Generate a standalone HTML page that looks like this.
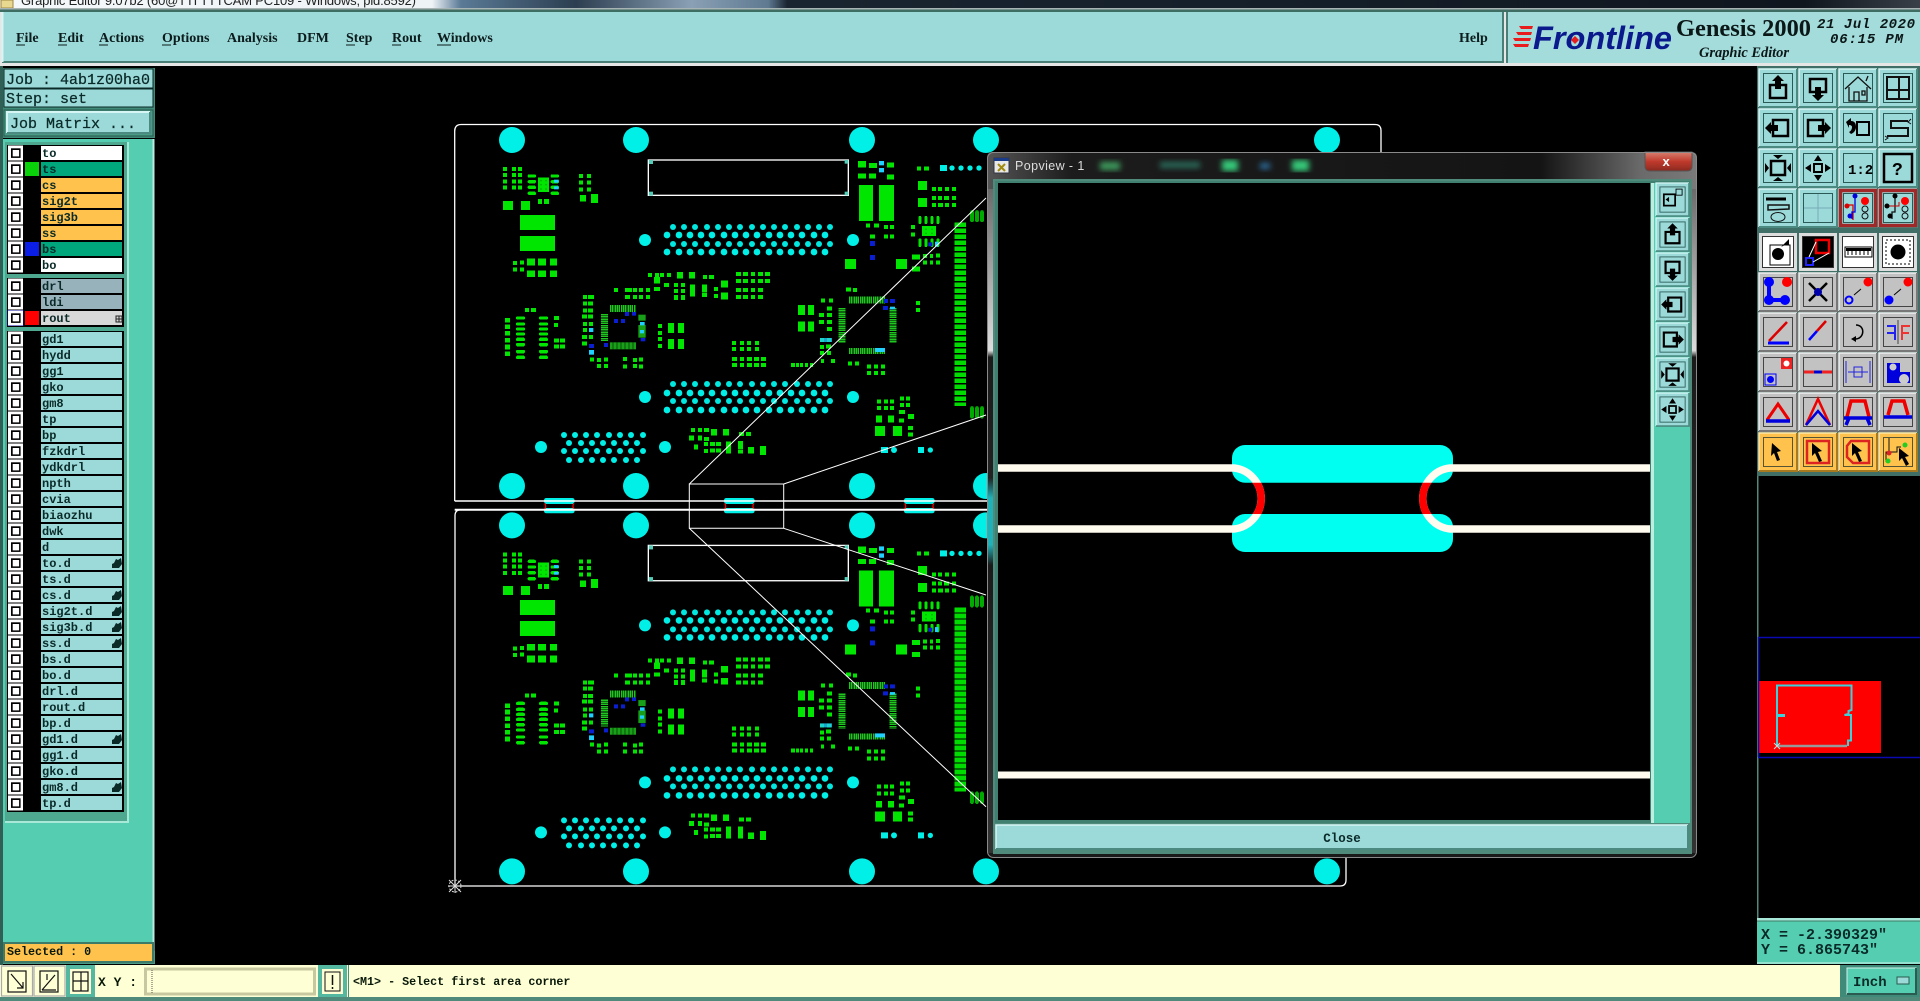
<!DOCTYPE html>
<html><head><meta charset="utf-8"><title>Genesis 2000 Graphic Editor</title>
<style>
html,body{margin:0;padding:0;background:#000;width:1920px;height:1001px;overflow:hidden}
svg{display:block}
.m{font:bold 14px "Liberation Serif",serif;fill:#0c1c1c}
.l{font:bold 12px "Liberation Mono",monospace;fill:#0a2a28}
.j{font:bold 15px "Liberation Mono",monospace;fill:#0a2a28}
.s{font:bold 11.7px "Liberation Mono",monospace;fill:#081808}
</style></head><body>
<svg xmlns="http://www.w3.org/2000/svg" width="1920" height="1001" viewBox="0 0 1920 1001">
<defs>
<linearGradient id="tb" x1="0" x2="1" y1="0" y2="0"><stop offset="0" stop-color="#f4f8fa"/><stop offset=".225" stop-color="#eef3f6"/><stop offset=".24" stop-color="#5a7a96"/><stop offset=".3" stop-color="#2c3e50"/><stop offset=".36" stop-color="#8aa0b4"/><stop offset=".4" stop-color="#5f7a92"/><stop offset=".41" stop-color="#1a2430"/><stop offset=".6" stop-color="#16212c"/><stop offset=".94" stop-color="#10161e"/><stop offset="1" stop-color="#3a4048"/></linearGradient>
<linearGradient id="pt" x1="0" x2="1" y1="0" y2="0"><stop offset="0" stop-color="#555"/><stop offset=".12" stop-color="#1c1c1c"/><stop offset=".78" stop-color="#141414"/><stop offset=".92" stop-color="#6a6a6a"/><stop offset="1" stop-color="#7a7a7a"/></linearGradient>
<linearGradient id="pf" x1="0" x2="0" y1="0" y2="1"><stop offset="0" stop-color="#666"/><stop offset=".25" stop-color="#ddd"/><stop offset=".26" stop-color="#1a1a1a"/><stop offset=".44" stop-color="#222"/><stop offset=".47" stop-color="#20b0b8"/><stop offset=".54" stop-color="#20b0b8"/><stop offset=".57" stop-color="#1a1a1a"/><stop offset="1" stop-color="#333"/></linearGradient>
<linearGradient id="pg" x1="0" x2="0" y1="0" y2="1"><stop offset="0" stop-color="#666"/><stop offset=".25" stop-color="#ddd"/><stop offset=".26" stop-color="#1a1a1a"/><stop offset="1" stop-color="#333"/></linearGradient>
<linearGradient id="rx" x1="0" x2="0" y1="0" y2="1"><stop offset="0" stop-color="#d88070"/><stop offset=".5" stop-color="#c03a2c"/><stop offset="1" stop-color="#8a2a20"/></linearGradient>
<filter id="bl"><feGaussianBlur stdDeviation="3"/></filter>
<clipPath id="gap"><rect x="1200" y="482.7" width="280" height="31.3"/></clipPath>
<clipPath id="cnv"><rect x="998" y="183" width="652" height="637"/></clipPath>

<g id="bt"><rect width="38" height="38" fill="#9cd9d9"/><path d="M0 38V0h38" fill="none" stroke="#d6f6f6" stroke-width="1.5"/><path d="M38 0V38H0" fill="none" stroke="#4a8a80" stroke-width="2"/><rect x="4.5" y="4.5" width="29" height="29" fill="none" stroke="#2a5a55"/></g>
<g id="bg"><rect width="38" height="38" fill="#c2c2c2"/><path d="M0 38V0h38" fill="none" stroke="#efefef" stroke-width="1.5"/><path d="M38 0V38H0" fill="none" stroke="#777" stroke-width="2"/><rect x="4.5" y="4.5" width="29" height="29" fill="none" stroke="#444"/></g>
<g id="bo"><rect width="38" height="38" fill="#ffc34d"/><path d="M0 38V0h38" fill="none" stroke="#ffe6a8" stroke-width="1.5"/><path d="M38 0V38H0" fill="none" stroke="#a87a20" stroke-width="2"/><rect x="4.5" y="4.5" width="29" height="29" fill="none" stroke="#553"/></g>
<g id="bw"><rect width="38" height="38" fill="#ddd"/><rect x="3.5" y="3.5" width="31" height="31" fill="#fff" stroke="#333"/></g>
<g id="br"><use href="#bt"/><rect x="1.5" y="1.5" width="35" height="35" fill="none" stroke="#a02828" stroke-width="3.5"/></g>

<g id="iu"><path d="M11 16h16v13H11z" fill="none" stroke="#000" stroke-width="2.5"/><path d="M19 6l6 6h-3v8h-6v-8h-3z"/></g>
<g id="id"><path d="M11 10h16v13H11z" fill="none" stroke="#000" stroke-width="2.5"/><path d="M19 32l6-6h-3v-8h-6v8h-3z"/></g>
<g id="il"><path d="M14 11h15v16H14z" fill="none" stroke="#000" stroke-width="2.5"/><path d="M6 19l6-6v3h7v6h-7v3z"/></g>
<g id="ir"><path d="M9 11h15v16H9z" fill="none" stroke="#000" stroke-width="2.5"/><path d="M32 19l-6-6v3h-7v6h7v3z"/></g>
<g id="is"><path d="M12 12h14v14H12z" fill="none" stroke="#000" stroke-width="2.5"/><path d="M19 10l-5-4h10zM19 28l-5 4h10zM10 19l-4-5v10zM28 19l4-5v10z"/></g>
<g id="im"><path d="M15 15h8v8h-8z" fill="none" stroke="#000" stroke-width="2"/><path d="M19 6l-4 6h8zM19 32l-4-6h8zM6 19l6-4v8zM32 19l-6-4v8z"/></g>

<g id="box"><rect x="0" y="-7.5" width="15" height="15" fill="#fff"/><rect x="3" y="-4.7" width="9.6" height="9.6" fill="#000"/><rect x="4.7" y="-3" width="6.4" height="6.4" fill="#fff"/></g>
<path id="pen" d="M-2 5v-4l2-1 2-4 2 1 3-2 1 6-3 4z" fill="#0a2a28"/>

<g id="dr1"><g fill="#00e8e0"><circle cx="579" cy="0" r="9"/><circle cx="612" cy="0" r="9"/><circle cx="645" cy="0" r="9"/><circle cx="681" cy="0" r="9"/><circle cx="714" cy="0" r="9"/><circle cx="747" cy="0" r="9"/><circle cx="780" cy="0" r="9"/><circle cx="816" cy="0" r="9"/><circle cx="849" cy="0" r="9"/><circle cx="882" cy="0" r="9"/><circle cx="915" cy="0" r="9"/><circle cx="951" cy="0" r="9"/><circle cx="984" cy="0" r="9"/><circle cx="1017" cy="0" r="9"/><circle cx="1050" cy="0" r="9"/></g></g>
<g id="dr2"><g fill="#00f0e8"><circle cx="561" cy="0" r="10"/><circle cx="597" cy="0" r="10"/><circle cx="630" cy="0" r="10"/><circle cx="663" cy="0" r="10"/><circle cx="696" cy="0" r="10"/><circle cx="732" cy="0" r="10"/><circle cx="765" cy="0" r="10"/><circle cx="798" cy="0" r="10"/><circle cx="831" cy="0" r="10"/><circle cx="867" cy="0" r="10"/><circle cx="900" cy="0" r="10"/><circle cx="933" cy="0" r="10"/><circle cx="966" cy="0" r="10"/><circle cx="1002" cy="0" r="10"/><circle cx="1035" cy="0" r="10"/></g></g>
<g id="vg1" fill="#00f0e8"><circle cx="252" cy="0" r="9"/><circle cx="285" cy="0" r="9"/><circle cx="318" cy="0" r="9"/><circle cx="351" cy="0" r="9"/><circle cx="387" cy="0" r="9"/><circle cx="420" cy="0" r="9"/><circle cx="453" cy="0" r="9"/><circle cx="489" cy="0" r="9"/></g>
<g id="vg2" fill="#00f0e8"><circle cx="267" cy="0" r="9"/><circle cx="303" cy="0" r="9"/><circle cx="336" cy="0" r="9"/><circle cx="369" cy="0" r="9"/><circle cx="402" cy="0" r="9"/><circle cx="438" cy="0" r="9"/><circle cx="471" cy="0" r="9"/></g>
<g id="tab"><path d="M-38 -22h76q8 0 8 8v4l-5 6h-82l-5-6v-4q0-8 8-8zM-38 24h76q8 0 8-8v-2l-5-6h-82l-5 6v2q0 8 8 8z" fill="#00f0e8"/><path d="M-44 -6a16 16 0 0 1 0 18M44 -6a16 16 0 0 0 0 18" fill="none" stroke="#e00" stroke-width="4"/></g>

<g id="board">
<g fill="#00f0e8"><circle cx="96" cy="90" r="39"/><circle cx="468" cy="90" r="39"/><circle cx="1146" cy="90" r="39"/><circle cx="1518" cy="90" r="39"/><circle cx="2541" cy="90" r="39"/><circle cx="96" cy="1128" r="39"/><circle cx="468" cy="1128" r="39"/><circle cx="1146" cy="1128" r="39"/><circle cx="1518" cy="1128" r="39"/><circle cx="2541" cy="1128" r="39"/><circle cx="495" cy="390" r="18"/><circle cx="1119" cy="390" r="18"/><circle cx="495" cy="861" r="18"/><circle cx="1119" cy="861" r="18"/><circle cx="183" cy="1011" r="18"/><circle cx="555" cy="1011" r="18"/><circle cx="1242" cy="1020" r="9"/><circle cx="1351" cy="1020" r="8"/><rect x="1203" y="1011" width="21" height="18"/><rect x="1314" y="1011" width="18" height="18"/><rect x="1380" y="165" width="21" height="18"/><circle cx="1416" cy="174" r="8"/><circle cx="1443" cy="174" r="8"/><circle cx="1470" cy="174" r="8"/><circle cx="1497" cy="174" r="8"/></g>
<use href="#dr1" y="351"/><use href="#dr2" y="375"/><use href="#dr1" y="402"/><use href="#dr2" y="426"/>
<use href="#dr1" y="822"/><use href="#dr2" y="849"/><use href="#dr1" y="873"/><use href="#dr2" y="900"/>
<use href="#vg1" y="975"/><use href="#vg2" y="999"/><use href="#vg1" y="1023"/><use href="#vg2" y="1050"/>
<rect x="505" y="150" width="600" height="106" fill="none" stroke="#fff" stroke-width="4"/>
<g fill="#52cdb8"><rect x="507" y="150" width="12" height="12"/><rect x="1094" y="150" width="11" height="11"/><rect x="507" y="245" width="12" height="12"/><rect x="1094" y="245" width="11" height="11"/></g>

<g fill="none" stroke="#00e600" shape-rendering="crispEdges">
<path stroke-width="12" d="M69 177h12M96 177h12M114 177h12M69 195h12M96 195h12M114 195h12M69 214h12M96 214h12M114 214h12M69 233h12M96 233h12M114 233h12M297 198h12M321 198h12M297 218h12M321 218h12M297 238h12M321 238h12M99 459h12M120 458h12M99 479h12M120 478h12M504 495h12M525 495h12M540 495h12M561 495h12M669 501h12M687 501h15M522 537h18M552 525h15M582 525h12M603 525h12M582 543h12M603 543h12M630 529h15M630 541h15M630 553h15M666 529h15M666 541h15M666 555h15M702 537h12M702 558h12M768 492h15M789 492h15M813 492h12M834 492h15M855 492h15M768 513h15M789 513h15M813 513h12M834 513h15M855 513h15M768 540h15M789 540h15M813 540h12M834 540h15M768 561h15M789 561h15M813 561h12M834 561h15M402 540h12M435 540h21M459 540h12M477 540h12M498 540h12M435 561h15M459 561h12M477 561h12M498 561h12M309 561h12M324 561h18M309 580h12M324 580h15M309 602h12M324 602h15M306 619h15M324 619h15M309 642h12M327 642h12M309 660h12M306 681h15M327 681h12M306 700h15M330 748h12M351 750h12M372 748h12M351 768h12M372 768h12M429 747h12M429 769h12M459 750h12M477 748h12M459 768h12M477 769h12M135 600h12M153 600h15M222 624h15M222 645h12M222 691h15M240 691h15M222 710h15M240 710h15M534 648h12M534 669h12M534 687h12M534 708h12M756 699h12M780 699h12M801 699h12M825 699h12M756 717h12M780 717h12M801 717h12M825 717h12M756 747h15M780 747h12M801 747h15M822 747h15M843 747h15M756 765h15M780 765h12M801 765h15M822 765h15M843 765h15M1023 571h12M1047 571h12M1041 595h15M1017 615h15M1041 615h15M1017 636h15M1041 636h15M1041 657h15M1020 690h12M1041 690h12M1020 711h12M1038 709h15M1020 729h12M1041 729h12M1023 753h9M1053 753h12M933 765h12M948 765h9M960 765h9M975 765h9M990 765h9M1098 538h15M1119 540h12M1104 760h12M1125 760h12M1161 769h12M1182 769h12M1203 769h12M1161 789h12M1182 789h12M1203 789h12M1158 346h12M1182 346h15M1212 351h12M1230 351h12M1170 379h15M1212 379h12M1230 379h12M1311 175h12M1332 175h15M1356 237h12M1374 237h12M1395 237h12M1416 237h12M1356 264h12M1374 264h12M1392 264h15M1416 264h12M1356 285h12M1374 285h15M1395 285h12M1416 285h12M1293 351h12M1293 373h12M1329 438h12M1350 438h9M1368 437h12M1329 457h12M1350 457h9M1368 457h12M1308 579h12M1308 600h12M1191 874h12M1212 874h12M1230 874h12M1191 894h12M1212 894h12M1230 894h12M1260 865h12M1278 865h12M1260 885h12M1278 885h12M1257 906h18M1257 931h15M1284 954h15M1284 973h15M633 960h12M654 960h12M672 960h15M672 987h15M777 972h15M798 972h15M672 1002h12M690 1002h15M708 1002h15M672 1023h12M690 1022h15M708 1022h15M738 1000h15M738 1012h15M738 1024h15M774 999h15M774 1011h15M774 1024h15"/>
<path stroke-width="15" d="M174 274h12M192 274h15M582 562h12M603 562h12M1167 166h24M1221 165h21M1134 198h24M1167 198h21M1221 201h21M1296 441h24M1296 477h24M627 984h15M654 984h12M642 1011h12M1284 919h18"/>
<path stroke-width="20" d="M141 456h24M174 456h24M210 456h21M141 491h24M174 491h24M210 491h21M300 265h18M591 496h18M627 496h18M1134 163h24M723 522h21M723 558h21M522 511h18M693 967h18M729 967h18M1188 927h18M1224 927h18M804 1021h18"/>
<path stroke-width="27" d="M69 286h30M123 286h27M333 265h21M1314 226h27M1314 277h27M840 1021h18"/>
<path stroke-width="30" d="M564 654h18M594 654h18M564 702h18M594 702h18M954 600h21M984 600h18M954 650h21M984 650h18M1095 462h33M1248 462h33M1185 963h30M1239 963h27"/>
<path stroke-width="45" d="M120 337h105M120 400h105"/>
<path stroke-width="108" d="M1137 279h42M1197 279h45"/>
<path stroke-width="44" d="M174 224h33"/>
<path stroke-width="30" d="M1326 363h42"/>
<path stroke-width="10" stroke-linecap="round" d="M148 198h15M148 215h15M148 232h15M148 250h15M217 198h15M217 215h15M217 232h15M217 250h15M113 624h17M113 642h17M113 657h17M113 672h17M113 688h17M113 704h17M113 725h17M113 742h17M182 624h17M182 642h17M182 657h17M182 672h17M182 688h17M182 704h17M182 725h17M182 742h17"/>
<path stroke-width="14" d="M75 631h15M75 650h15M75 670h15M75 691h15M75 711h15M75 731h15"/>
<path stroke-width="8" stroke-linecap="round" d="M1320 322v16M1338 322v16M1356 322v16M1374 322v16M1320 389v18M1338 389v18M1356 389v18M1374 389v18"/>
<path stroke="#0a0" stroke-width="11" stroke-linecap="round" d="M1476 306v25M1491 306v25M1506 306v25M1476 894v26M1491 894v26M1506 894v26"/>
<path stroke="#00dc00" stroke-width="35" stroke-dasharray="14 4" d="M1441 337V888"/>
<path stroke="#1ec81e" stroke-width="21" stroke-dasharray="4.5 2" d="M390 596h78M1107 570h108"/>
<path stroke="#1ec81e" stroke-width="18" stroke-dasharray="4.5 2" d="M1107 723h108"/>
<path stroke="#1ec81e" stroke-width="21" stroke-dasharray="4.5 2" d="M373 612v81M1086 594v105M1239 594v105"/>
</g>
<g fill="#1ec81e" opacity=".8"><rect x="390" y="697" width="78" height="21"/><rect x="475" y="614" width="22" height="18"/><rect x="475" y="645" width="22" height="38"/></g>
<g fill="none" stroke="#000" stroke-width="1.500"><path d="M399 697v21M411 697v21M423 697v21M435 697v21M447 697v21M459 697v21"/></g>
<g fill="#0a0"><circle cx="183" cy="212" r="2.5"/><circle cx="198" cy="212" r="2.5"/><circle cx="183" cy="224" r="2.5"/><circle cx="198" cy="224" r="2.5"/><circle cx="183" cy="237" r="2.5"/><circle cx="198" cy="237" r="2.5"/><circle cx="1338" cy="358" r="2.5"/><circle cx="1356" cy="358" r="2.5"/><circle cx="1338" cy="370" r="2.5"/><circle cx="1356" cy="370" r="2.5"/></g>
<g fill="#0a1ed2"><rect x="435" y="606" width="12" height="12"/><rect x="456" y="606" width="12" height="11"/><rect x="402" y="627" width="12" height="12"/><rect x="423" y="627" width="12" height="12"/><rect x="372" y="699" width="12" height="12"/><rect x="327" y="702" width="15" height="12"/><rect x="1212" y="567" width="12" height="12"/><rect x="1230" y="567" width="15" height="12"/><rect x="1209" y="588" width="15" height="12"/><rect x="1170" y="393" width="15" height="15"/><rect x="1170" y="435" width="15" height="15"/><rect x="1345" y="397" width="12" height="12"/><rect x="482" y="684" width="14" height="10"/></g>
<g fill="#20d0ff"><rect x="222" y="209" width="14" height="9"/><rect x="222" y="229" width="14" height="9"/><rect x="327" y="654" width="13" height="12"/><rect x="327" y="720" width="15" height="14"/><rect x="480" y="636" width="14" height="10"/><rect x="480" y="660" width="12" height="10"/><rect x="1230" y="590" width="15" height="8"/><rect x="1185" y="714" width="30" height="12"/><rect x="1197" y="174" width="15" height="13"/><rect x="1197" y="153" width="15" height="13"/><rect x="1365" y="395" width="10" height="15"/><rect x="1020" y="684" width="36" height="12" opacity=".8"/></g>
</g>
</defs>

<!-- background -->
<rect width="1920" height="1001" fill="#000"/>

<!-- board -->
<use href="#board" transform="translate(480,110) scale(.33333)"/>
<use href="#board" transform="translate(480,495.4) scale(.33333)"/>
<g transform="translate(559.300,505.300) scale(.33333)"><use href="#tab"/></g>
<g transform="translate(739.300,505.300) scale(.33333)"><use href="#tab"/></g>
<g transform="translate(919.300,505.300) scale(.33333)"><use href="#tab"/></g>
<g fill="none" stroke="#fff">
<path d="M454.700 501V131q0-6.500 6.500-6.500H1375q6 0 6 6V152" stroke-width="1.300"/>
<path d="M454.700 501H1000" stroke-width="1.600"/>
<path d="M1000 509.700H461q-6 0-6 6V886H1340q6 0 6-6v-30" stroke-width="1.300"/>
<path d="M454.700 509.700H1000" stroke-width="2"/>
<path d="M689.300 484H783.700V528.300H689.300z" stroke-width="1"/>
<path d="M689.300 484L986 198M783.700 484L986 415M689.300 528.300L986 806.700M783.700 528.300L986 595" stroke-width="1"/>
</g>
<g fill="none" stroke="#ddd" stroke-width="1"><circle cx="455" cy="886" r="6" stroke-dasharray="2 1.500"/><path d="M449 880l12 12M449 892l12-12M455 879v14M448 886h14"/></g>

<!-- top title bar -->
<rect width="1920" height="8" fill="url(#tb)"/>
<text x="21" y="5" font-family="'Liberation Sans',sans-serif" font-size="13" fill="#222" textLength="395">Graphic Editor 9.07b2 (60@TTI TTTCAM PC109 - Windows, pid:8592)</text>
<rect x="1" y="0" width="12" height="8" fill="#e8d890" stroke="#a08840"/>
<rect y="8" width="1920" height="1.500" fill="#a8b4b4"/>
<rect y="9.500" width="1920" height="2.500" fill="#3e6d64"/>

<!-- menu bar -->
<rect y="12" width="1920" height="54" fill="#fff" opacity=".9"/>
<rect x="2" y="12" width="1501" height="50" fill="#9cd9d9"/>
<path d="M2 62h1501V12" fill="none" stroke="#4a7f78" stroke-width="2"/>
<path d="M2.500 62V12" stroke="#d8f4f4" fill="none" stroke-width="2"/>
<g class="m">
<text class="m" x="16" y="42">File</text>
<text class="m" x="58" y="42">Edit</text>
<text class="m" x="99" y="42">Actions</text>
<text class="m" x="162" y="42">Options</text>
<text class="m" x="227" y="42">Analysis</text>
<text class="m" x="297" y="42">DFM</text>
<text class="m" x="346" y="42">Step</text>
<text class="m" x="392" y="42">Rout</text>
<text class="m" x="437" y="42">Windows</text>
<text class="m" x="1459" y="42">Help</text>
</g>
<path d="M16 45h9M58 45h9M99 45h9M162 45h9M346 45h9M392 45h9M437 45h14" stroke="#0c1c1c" fill="none"/>
<rect x="1507" y="12" width="413" height="51" fill="#a4dcdc"/>
<path d="M1507 63V12" stroke="#4a7f78" fill="none" stroke-width="2"/>
<path d="M1519 26h14l-1 3h-11zM1516 32h16l-1 3h-13zM1513 38h18l-1 3h-15zM1513 44h16l-1 3h-13z" fill="#e81c1c"/>
<text x="1533" y="49" font-family="'Liberation Sans',sans-serif" font-weight="bold" font-style="italic" font-size="32" fill="#0a1a8c" textLength="139" lengthAdjust="spacingAndGlyphs">Frontline</text>
<path d="M1575 36l4 4-4 4-4-4z" fill="#e81c1c"/>
<text x="1676" y="36" font-family="'Liberation Serif',serif" font-size="24" font-weight="bold" fill="#0c1818" textLength="135" lengthAdjust="spacingAndGlyphs">Genesis 2000</text>
<text x="1699" y="57" font-family="'Liberation Serif',serif" font-size="14.500" font-weight="bold" font-style="italic" fill="#0c1818" textLength="90">Graphic Editor</text>
<text x="1817" y="28" font-family="'Liberation Mono',monospace" font-size="14" font-weight="bold" font-style="italic" fill="#0c1818" textLength="98" xml:space="preserve">21 Jul 2020</text>
<text x="1830" y="43" font-family="'Liberation Mono',monospace" font-size="14" font-weight="bold" font-style="italic" fill="#0c1818" textLength="73" xml:space="preserve">06:15 PM</text>

<!-- left panel -->
<rect x="0" y="66" width="3" height="900" fill="#2f5f55"/>
<rect x="3" y="68" width="152" height="70" fill="#3f8a78"/>
<rect x="4" y="69" width="149" height="19" fill="#9cd9d9" stroke="#0a2a28"/>
<rect x="4" y="89" width="149" height="18" fill="#9cd9d9" stroke="#0a2a28"/>
<text class="j" x="6" y="84" xml:space="preserve" font-weight="normal" style="font-weight:normal;stroke:#0a2a28;stroke-width:.25">Job : 4ab1z00ha0</text>
<text class="j" x="6" y="103" xml:space="preserve" style="font-weight:normal;stroke:#0a2a28;stroke-width:.25">Step: set</text>
<rect x="4" y="110" width="149" height="26" fill="#4a9a86" stroke="#2a5a50"/>
<rect x="7" y="112" width="143" height="21" fill="#9cd9d9"/>
<path d="M7 133V112h143" fill="none" stroke="#d6f6f6" stroke-width="2"/><path d="M150 112v21H7" fill="none" stroke="#4a8a80" stroke-width="2"/>
<text class="j" x="10" y="128" xml:space="preserve" style="font-weight:normal;stroke:#0a2a28;stroke-width:.25">Job Matrix ...</text>

<rect x="3" y="139" width="150" height="812" fill="#54cdb0"/>
<path d="M153.500 139V951" stroke="#b8ece0" stroke-width="2"/>
<rect x="5" y="142" width="122" height="680" fill="#4ea88f"/>
<path d="M128 142V822H5" fill="none" stroke="#a8e8d8" stroke-width="2"/>
<rect x="7" y="145" width="117" height="129" fill="#000"/>
<rect x="7" y="278" width="117" height="49" fill="#000"/>
<rect x="7" y="331" width="117" height="481" fill="#000"/>
<g id="rows">
<g fill="#fff"><rect x="41" y="146" width="81" height="14"/><rect x="41" y="258" width="81" height="14"/></g>
<g fill="#00a67c"><rect x="41" y="162" width="81" height="14"/><rect x="41" y="242" width="81" height="14"/></g>
<g fill="#ffc34d"><rect x="41" y="178" width="81" height="14"/><rect x="41" y="194" width="81" height="14"/><rect x="41" y="210" width="81" height="14"/><rect x="41" y="226" width="81" height="14"/></g>
<g fill="#98b2bc"><rect x="41" y="279" width="81" height="14"/><rect x="41" y="295" width="81" height="14"/></g>
<rect x="41" y="311" width="81" height="14" fill="#d8d8d8"/>
<rect x="25" y="162" width="14" height="14" fill="#0ad20a"/><rect x="25" y="242" width="14" height="14" fill="#0a1ee6"/><rect x="25" y="311" width="14" height="14" fill="#f00"/>
<rect x="7.500" y="310" width="16" height="16" fill="#0a0a9a"/>
<g fill="#9cd9d9"><rect x="41" y="332" width="81" height="14"/><rect x="41" y="348" width="81" height="14"/><rect x="41" y="364" width="81" height="14"/><rect x="41" y="380" width="81" height="14"/><rect x="41" y="396" width="81" height="14"/><rect x="41" y="412" width="81" height="14"/><rect x="41" y="428" width="81" height="14"/><rect x="41" y="444" width="81" height="14"/><rect x="41" y="460" width="81" height="14"/><rect x="41" y="476" width="81" height="14"/><rect x="41" y="492" width="81" height="14"/><rect x="41" y="508" width="81" height="14"/><rect x="41" y="524" width="81" height="14"/><rect x="41" y="540" width="81" height="14"/><rect x="41" y="556" width="81" height="14"/><rect x="41" y="572" width="81" height="14"/><rect x="41" y="588" width="81" height="14"/><rect x="41" y="604" width="81" height="14"/><rect x="41" y="620" width="81" height="14"/><rect x="41" y="636" width="81" height="14"/><rect x="41" y="652" width="81" height="14"/><rect x="41" y="668" width="81" height="14"/><rect x="41" y="684" width="81" height="14"/><rect x="41" y="700" width="81" height="14"/><rect x="41" y="716" width="81" height="14"/><rect x="41" y="732" width="81" height="14"/><rect x="41" y="748" width="81" height="14"/><rect x="41" y="764" width="81" height="14"/><rect x="41" y="780" width="81" height="14"/><rect x="41" y="796" width="81" height="14"/></g>
<use href="#box" x="8" y="153"/><use href="#box" x="8" y="169"/><use href="#box" x="8" y="185"/><use href="#box" x="8" y="201"/><use href="#box" x="8" y="217"/><use href="#box" x="8" y="233"/><use href="#box" x="8" y="249"/><use href="#box" x="8" y="265"/>
<use href="#box" x="8" y="286"/><use href="#box" x="8" y="302"/><use href="#box" x="8" y="318"/>
<use href="#box" x="8" y="339"/><use href="#box" x="8" y="355"/><use href="#box" x="8" y="371"/><use href="#box" x="8" y="387"/><use href="#box" x="8" y="403"/><use href="#box" x="8" y="419"/><use href="#box" x="8" y="435"/><use href="#box" x="8" y="451"/><use href="#box" x="8" y="467"/><use href="#box" x="8" y="483"/><use href="#box" x="8" y="499"/><use href="#box" x="8" y="515"/><use href="#box" x="8" y="531"/><use href="#box" x="8" y="547"/><use href="#box" x="8" y="563"/><use href="#box" x="8" y="579"/><use href="#box" x="8" y="595"/><use href="#box" x="8" y="611"/><use href="#box" x="8" y="627"/><use href="#box" x="8" y="643"/><use href="#box" x="8" y="659"/><use href="#box" x="8" y="675"/><use href="#box" x="8" y="691"/><use href="#box" x="8" y="707"/><use href="#box" x="8" y="723"/><use href="#box" x="8" y="739"/><use href="#box" x="8" y="755"/><use href="#box" x="8" y="771"/><use href="#box" x="8" y="787"/><use href="#box" x="8" y="803"/>
<text class="l" x="42" y="157">to</text><text class="l" x="42" y="173">ts</text><text class="l" x="42" y="189">cs</text><text class="l" x="42" y="205">sig2t</text><text class="l" x="42" y="221">sig3b</text><text class="l" x="42" y="237">ss</text><text class="l" x="42" y="253">bs</text><text class="l" x="42" y="269">bo</text>
<text class="l" x="42" y="290">drl</text><text class="l" x="42" y="306">ldi</text><text class="l" x="42" y="322">rout</text>
<text class="l" x="42" y="343">gd1</text><text class="l" x="42" y="359">hydd</text><text class="l" x="42" y="375">gg1</text><text class="l" x="42" y="391">gko</text><text class="l" x="42" y="407">gm8</text><text class="l" x="42" y="423">tp</text><text class="l" x="42" y="439">bp</text><text class="l" x="42" y="455">fzkdrl</text><text class="l" x="42" y="471">ydkdrl</text><text class="l" x="42" y="487">npth</text><text class="l" x="42" y="503">cvia</text><text class="l" x="42" y="519">biaozhu</text><text class="l" x="42" y="535">dwk</text><text class="l" x="42" y="551">d</text><text class="l" x="42" y="567">to.d</text><text class="l" x="42" y="583">ts.d</text><text class="l" x="42" y="599">cs.d</text><text class="l" x="42" y="615">sig2t.d</text><text class="l" x="42" y="631">sig3b.d</text><text class="l" x="42" y="647">ss.d</text><text class="l" x="42" y="663">bs.d</text><text class="l" x="42" y="679">bo.d</text><text class="l" x="42" y="695">drl.d</text><text class="l" x="42" y="711">rout.d</text><text class="l" x="42" y="727">bp.d</text><text class="l" x="42" y="743">gd1.d</text><text class="l" x="42" y="759">gg1.d</text><text class="l" x="42" y="775">gko.d</text><text class="l" x="42" y="791">gm8.d</text><text class="l" x="42" y="807">tp.d</text>
<use href="#pen" x="114" y="563"/><use href="#pen" x="114" y="595"/><use href="#pen" x="114" y="611"/><use href="#pen" x="114" y="627"/><use href="#pen" x="114" y="643"/><use href="#pen" x="114" y="739"/><use href="#pen" x="114" y="787"/>
<path d="M116 316h6v6h-6zM119 316v6M116 319h6" fill="none" stroke="#222" stroke-width="1"/>
</g>
<rect x="3" y="951" width="152" height="13" fill="#4a9a86"/>
<rect x="4" y="943" width="149" height="19" fill="#ffc34d" stroke="#3e7a68" stroke-width="2"/>
<text class="s" x="7" y="955" xml:space="preserve">Selected : 0</text>

<!-- bottom bar -->
<rect y="965" width="1920" height="32" fill="#ffffd6"/>
<rect y="997" width="1920" height="4" fill="#4f8a7a"/>
<g fill="none" stroke="#111" stroke-width="1.200">
<rect x="1.500" y="966" width="31" height="30" stroke="#aaa"/><rect x="34" y="966" width="31" height="30" stroke="#aaa"/>
<rect x="8" y="971" width="18" height="21"/><path d="M11 974l12 14m0-6v6h-6"/>
<rect x="40" y="971" width="18" height="21"/><path d="M42 990l13-15M42 990h14M47 974v6"/>
</g>
<rect x="66" y="965" width="29" height="32" fill="#54b8a0"/><rect x="70" y="969" width="21" height="25" fill="#ffffd6"/>
<g fill="none" stroke="#111" stroke-width="1.200"><rect x="73" y="972" width="15" height="19"/><path d="M73 981h15M81 972v19"/></g>
<text class="s" x="98" y="986" style="font-size:13px" xml:space="preserve">X Y :</text>
<rect x="145.500" y="969" width="169" height="25" fill="#ffffd6" stroke="#c8c8a0" stroke-width="3"/>
<path d="M152 970v24" stroke="#555" stroke-dasharray="1 1" fill="none"/>
<rect x="318" y="965" width="29" height="32" fill="#54b8a0"/><rect x="322" y="969" width="21" height="25" fill="#ffffd6"/>
<rect x="325" y="972" width="15" height="19" fill="none" stroke="#111"/><path d="M332.500 975v10M332.500 987v2" stroke="#111" stroke-width="1.500" fill="none"/>
<path d="M348.500 965v32" stroke="#4f8a7a" fill="none"/>
<text class="s" x="353" y="985" xml:space="preserve">&lt;M1&gt; - Select first area corner</text>

<!-- right toolbar -->
<rect x="1757" y="66" width="163" height="410" fill="#3f6f66"/>
<use href="#bt" x="1759" y="69"/><use href="#bt" x="1799" y="69"/><use href="#bt" x="1839" y="69"/><use href="#bt" x="1879" y="69"/>
<use href="#bt" x="1759" y="109"/><use href="#bt" x="1799" y="109"/><use href="#bt" x="1839" y="109"/><use href="#bt" x="1879" y="109"/>
<use href="#bt" x="1759" y="149"/><use href="#bt" x="1799" y="149"/><use href="#bt" x="1839" y="149"/><use href="#bt" x="1879" y="149"/>
<use href="#bt" x="1759" y="189"/><use href="#bt" x="1799" y="189"/><use href="#br" x="1839" y="189"/><use href="#br" x="1879" y="189"/>
<use href="#iu" x="1759" y="69"/><use href="#id" x="1799" y="69"/>
<g transform="translate(1839,69)" fill="none" stroke="#111" stroke-width="1.300"><path d="M6 20L19 8l13 12M10 18v14h18V18M15 32v-9h5v9M23 22h3v4h-3zM27 12l2-5"/></g>
<g transform="translate(1879,69)" fill="none" stroke="#111" stroke-width="2"><rect x="8" y="8" width="22" height="22"/><path d="M8 21h22M20 8v22"/></g>
<use href="#il" x="1759" y="109"/><use href="#ir" x="1799" y="109"/>
<g transform="translate(1839,109)"><rect x="18" y="13" width="12" height="13" fill="none" stroke="#000" stroke-width="2"/><path d="M7 13l5-4v3c4 0 5 3 5 6s-2 6-5 7l-2-2c2-1 3-3 3-5 0-1-1-2-3-2v3z"/></g>
<g transform="translate(1879,109)" fill="none" stroke="#111" stroke-width="2"><path d="M29 12H12v7h17v8H8"/><path d="M32 10l-3 3 3 2M6 27l3 2-3 2" stroke-width="1"/></g>
<use href="#is" x="1759" y="149"/><use href="#im" x="1799" y="149"/>
<text x="1848" y="174" font-family="'Liberation Mono',monospace" font-weight="bold" font-size="14">1:2</text>
<text x="1892" y="175" font-family="'Liberation Mono',monospace" font-weight="bold" font-size="18">?</text>
<rect x="1884" y="154" width="28" height="28" fill="none" stroke="#000" stroke-width="2.500"/>
<g transform="translate(1759,189)"><path d="M9 16h21v4l-21 1z" fill="none" stroke="#111" stroke-width="1.500"/><path d="M7 10h20" stroke="#000" stroke-width="3"/><ellipse cx="19" cy="28" rx="7" ry="4.500" fill="none" stroke="#111"/></g>
<g transform="translate(1799,189)" stroke="#7ab" fill="none"><path d="M5 19h28M19 5v28"/></g>
<g transform="translate(1839,189)"><path d="M8 16h6v15" fill="none" stroke="#d00" stroke-width="1.300"/><path d="M16 7v16h-3v7" fill="none" stroke="#00d" stroke-width="1.300"/><circle cx="16" cy="7" r="2.500" fill="#00d"/><circle cx="8" cy="17" r="2.500" fill="#d00"/><circle cx="11" cy="27" r="2.500" fill="#00d"/><circle cx="26" cy="12" r="4" fill="#f00"/><circle cx="26" cy="20" r="3" fill="none" stroke="#111"/><circle cx="26" cy="27" r="3" fill="none" stroke="#111"/></g>
<g transform="translate(1879,189)"><path d="M16 7v16h-3v7" fill="none" stroke="#111" stroke-width="1.300"/><path d="M8 17h12v-4" fill="none" stroke="#c00"/><circle cx="16" cy="7" r="2.500"/><circle cx="8" cy="17" r="2.500"/><circle cx="11" cy="27" r="2.500"/><circle cx="26" cy="12" r="4" fill="#f00"/><circle cx="26" cy="20" r="3" fill="none" stroke="#111"/><circle cx="26" cy="27" r="3" fill="none" stroke="#111"/></g>

<rect x="1757" y="229" width="163" height="3" fill="#3f6f66"/>
<use href="#bw" x="1759" y="233"/><use href="#bw" x="1799" y="233"/><use href="#bw" x="1839" y="233"/><use href="#bw" x="1879" y="233"/>
<use href="#bg" x="1759" y="273"/><use href="#bg" x="1799" y="273"/><use href="#bg" x="1839" y="273"/><use href="#bg" x="1879" y="273"/>
<use href="#bg" x="1759" y="313"/><use href="#bg" x="1799" y="313"/><use href="#bg" x="1839" y="313"/><use href="#bg" x="1879" y="313"/>
<use href="#bg" x="1759" y="353"/><use href="#bg" x="1799" y="353"/><use href="#bg" x="1839" y="353"/><use href="#bg" x="1879" y="353"/>
<use href="#bg" x="1759" y="393"/><use href="#bg" x="1799" y="393"/><use href="#bg" x="1839" y="393"/><use href="#bg" x="1879" y="393"/>
<use href="#bo" x="1759" y="433"/><use href="#bo" x="1799" y="433"/><use href="#bo" x="1839" y="433"/><use href="#bo" x="1879" y="433"/>

<g transform="translate(1759,233)"><rect x="11" y="12" width="20" height="20" fill="none" stroke="#000"/><circle cx="19" cy="21" r="6"/><path d="M22 14l8-8v6h-4z"/></g>
<g transform="translate(1799,233)"><rect x="4" y="4" width="30" height="30" fill="#000"/><rect x="17" y="7" width="13" height="13" fill="none" stroke="#e00" stroke-width="2.500"/><rect x="7" y="25" width="7" height="7" fill="none" stroke="#22f" stroke-width="2"/><path d="M10 24l7-15M14 29l16-9" stroke="#fff" fill="none"/></g>
<g transform="translate(1839,233)"><rect x="6" y="14" width="27" height="10" fill="#fff" stroke="#000"/><path d="M7 15h25v3H7z"/><path d="M9 18v4M13 18v4M17 18v4M21 18v4M25 18v4M29 18v4" stroke="#000"/></g>
<g transform="translate(1879,233)"><rect x="7" y="7" width="24" height="24" fill="none" stroke="#000" stroke-dasharray="2 2"/><circle cx="19" cy="19" r="7.500"/></g>

<g transform="translate(1759,273)"><path d="M10 9v18h16" fill="none" stroke="#00f" stroke-width="4"/><circle cx="10" cy="9" r="5" fill="#00f"/><circle cx="10" cy="27" r="5" fill="#00f"/><circle cx="26" cy="27" r="5" fill="#00f"/><circle cx="28" cy="9" r="5" fill="#f00"/></g>
<g transform="translate(1799,273)"><path d="M10 10l18 18M28 10L10 28" stroke="#000" stroke-width="2.500" fill="none"/><circle cx="19" cy="19" r="4" fill="#00a"/></g>
<g transform="translate(1839,273)"><circle cx="10" cy="27" r="3.500" fill="none" stroke="#00f" stroke-width="2"/><circle cx="29" cy="9" r="4.500" fill="#f00"/><path d="M15 22l7-6" stroke="#000" fill="none"/></g>
<g transform="translate(1879,273)"><circle cx="10" cy="27" r="4.500" fill="#00f"/><circle cx="29" cy="9" r="4.500" fill="#f00"/><path d="M15 22l7-6" stroke="#000" fill="none"/></g>

<g transform="translate(1759,313)"><path d="M10 28L28 9" stroke="#d00" stroke-width="2.500" fill="none"/><path d="M9 30h21" stroke="#00f" stroke-width="3" fill="none"/></g>
<g transform="translate(1799,313)"><path d="M10 27l8-9" stroke="#00f" stroke-width="2.500" fill="none"/><path d="M18 18l9-10" stroke="#d00" stroke-width="2.500" fill="none"/></g>
<g transform="translate(1839,313)"><path d="M17 12c9 0 9 13 0 14" fill="none" stroke="#000" stroke-width="1.500"/><path d="M12 26l5-3v6z"/></g>
<g transform="translate(1879,313)"><path d="M8 13h8v14M8 20h8" fill="none" stroke="#22e" stroke-width="2"/><path d="M19 7v24" stroke="#444" fill="none"/><path d="M31 13h-8v14M23 20h7" fill="none" stroke="#e33" stroke-width="2"/></g>

<g transform="translate(1759,353)"><rect x="22" y="5" width="11" height="11" fill="#e22"/><circle cx="27.500" cy="10.500" r="3" fill="#fff"/><rect x="6" y="21" width="11" height="11" fill="none" stroke="#00f"/><circle cx="11.500" cy="26.500" r="3.500" fill="#00f"/></g>
<g transform="translate(1799,353)"><path d="M5 19h28" stroke="#e22" stroke-width="3" fill="none"/><path d="M15 19h8" stroke="#00c" stroke-width="3" fill="none"/></g>
<g transform="translate(1839,353)" fill="none" stroke="#22d"><path d="M7 8v22M31 8v22M9 19h20"/><rect x="15" y="14" width="8" height="10"/></g>
<g transform="translate(1879,353)"><path d="M8 10h13v9h10v11H8z" fill="#00d"/><circle cx="14" cy="14" r="3.500" fill="#ccc"/><circle cx="25" cy="26" r="5" fill="#ccc"/></g>

<g transform="translate(1759,393)"><path d="M8 27L19 11l11 16" fill="none" stroke="#e00" stroke-width="3"/><path d="M7 28h24" stroke="#00d" stroke-width="3.500" fill="none"/></g>
<g transform="translate(1799,393)"><path d="M7 32L19 6l12 26" fill="none" stroke="#e00" stroke-width="2.500"/><path d="M7 32l12-14 12 14" fill="none" stroke="#00d" stroke-width="2.500"/></g>
<g transform="translate(1839,393)"><path d="M8 24l4-16h14l4 16" fill="none" stroke="#e00" stroke-width="3.500"/><path d="M5 25h28M7 32l3-7M31 32l-3-7" stroke="#00d" stroke-width="3.500" fill="none"/></g>
<g transform="translate(1879,393)"><path d="M9 22l4-14h12l4 14" fill="none" stroke="#e00" stroke-width="3.500"/><path d="M5 24h28" stroke="#00d" stroke-width="3.500" fill="none"/></g>

<path d="M1772 443l9 8-4 1 3 8-3 1-3-8-3 3z"/>
<g transform="translate(1799,433)"><rect x="8" y="8" width="22" height="22" fill="none" stroke="#d22" stroke-width="2.500"/><path d="M13 10l10 8-4 1 4 9-3 1-4-9-3 3z"/></g>
<g transform="translate(1839,433)"><path d="M12 8h18v22H14l-6-6V13z" fill="none" stroke="#d22" stroke-width="2.500"/><path d="M13 10l10 8-4 1 4 9-3 1-4-9-3 3z"/></g>
<g transform="translate(1879,433)"><path d="M10 5v14H7v10M22 14h-4v5h-8" fill="none" stroke="#111"/><circle cx="10" cy="20" r="2.500" fill="#d22"/><circle cx="9" cy="28" r="2.500" fill="#2c2"/><circle cx="26" cy="12" r="2.500" fill="#2c2"/><path d="M20 15l10 8-4 1 4 7-3 2-4-8-3 3z"/></g>

<!-- mini view -->
<rect x="1757" y="472" width="163" height="4" fill="#3f6f66"/>
<rect x="1757" y="476" width="1.500" height="445" fill="#4f8a7a"/>
<rect x="1758" y="681" width="123" height="72" fill="#f00"/>
<path d="M1758 637.500H1920M1758 757.500H1920M1758.500 637V757" stroke="#0a0ab0" fill="none" stroke-width="1.500"/>
<path d="M1777 746V685.500H1851.500V710l-3 1v3l-4 1h6.500V740.500h-3V746" fill="none" stroke="#3cd2dc" stroke-width="2"/>
<path d="M1777 715.500h8" stroke="#3cd2dc" stroke-width="3" fill="none"/>
<path d="M1778 746h69" stroke="#999" stroke-width="2.500" fill="none"/>
<path d="M1774 743l6 6M1774 749l6-6" stroke="#cdd" fill="none"/>

<!-- coordinates -->
<rect x="1757" y="918" width="163" height="3" fill="#a8e8d8"/>
<rect x="1757" y="921" width="163" height="43" fill="#54cdb0"/>
<path d="M1757 921h163" stroke="#3e7a68" fill="none"/><path d="M1757 963h163" stroke="#a8e8d8" fill="none" stroke-width="1.500"/>
<text class="j" x="1761" y="939" xml:space="preserve">X = -2.390329"</text>
<text class="j" x="1761" y="954" xml:space="preserve">Y = 6.865743"</text>
<rect x="1840" y="965" width="80" height="32" fill="#3f8a78"/>
<rect x="1847" y="968" width="69" height="26" fill="#54cdb0" stroke="#d0f4ec"/>
<path d="M1916 968v26h-69" fill="none" stroke="#2a5a50" stroke-width="2"/>
<text x="1853" y="986" font-family="'Liberation Mono',monospace" font-weight="bold" font-size="14" fill="#0a2a28">Inch</text>
<rect x="1897" y="977" width="12" height="7" fill="#9cd9d9" stroke="#2a5a50"/>

<!-- popup window -->
<rect x="987" y="152" width="710" height="706" rx="6" fill="#1a1a1a"/>
<rect x="987" y="183" width="7" height="670" fill="url(#pf)"/>
<rect x="1692" y="183" width="5" height="670" fill="url(#pg)"/>
<path d="M993 152H1691q6 0 6 6v31H987v-31q0-6 6-6z" fill="url(#pt)"/>
<path d="M993 152.500H1691" stroke="#aaa" fill="none"/>
<g filter="url(#bl)"><rect x="1222" y="160" width="16" height="11" fill="#35c878"/><rect x="1292" y="160" width="17" height="11" fill="#35c878"/><rect x="1100" y="162" width="20" height="8" fill="#3c9a5c"/><rect x="1260" y="163" width="10" height="6" fill="#2a6a9a"/><rect x="1160" y="162" width="40" height="6" fill="#2a6a5a"/></g>
<rect x="994" y="158" width="15" height="15" fill="#e8e8e8" stroke="#334"/>
<rect x="994" y="158" width="15" height="3" fill="#1a3a8a"/>
<path d="M998 164l7 7M1005 164l-7 7" stroke="#a08a10" stroke-width="2" fill="none"/>
<text x="1015" y="170" font-family="'Liberation Sans',sans-serif" font-size="12.500" fill="#ddd" letter-spacing=".4">Popview - 1</text>
<path d="M1645 152h47v14q0 5-5 5h-37q-5 0-5-5z" fill="url(#rx)" stroke="#555"/>
<text x="1662.500" y="166" font-family="'Liberation Sans',sans-serif" font-weight="bold" font-size="13" fill="#fff">x</text>

<rect x="993" y="179" width="699" height="675" fill="#4f8a7a"/>
<rect x="995" y="181" width="695" height="642" fill="#3f8070"/>
<rect x="998" y="183" width="652" height="637" fill="#000"/>
<rect x="1651" y="183" width="3" height="640" fill="#bdeee0"/>
<rect x="1654" y="183" width="36" height="640" fill="#54cdb0"/>
<use href="#bt" transform="translate(1656,183) scale(.87)"/><use href="#bt" transform="translate(1656,218) scale(.87)"/><use href="#bt" transform="translate(1656,253) scale(.87)"/><use href="#bt" transform="translate(1656,288) scale(.87)"/><use href="#bt" transform="translate(1656,323) scale(.87)"/><use href="#bt" transform="translate(1656,358) scale(.87)"/><use href="#bt" transform="translate(1656,393) scale(.87)"/>
<g transform="translate(1656,183) scale(.87)"><rect x="9" y="13" width="13" height="13" fill="none" stroke="#000" stroke-width="2"/><rect x="23" y="7" width="7" height="7" fill="none" stroke="#000"/><path d="M11 19l4-3v6z"/></g>
<use href="#iu" transform="translate(1656,218) scale(.87)"/><use href="#id" transform="translate(1656,253) scale(.87)"/><use href="#il" transform="translate(1656,288) scale(.87)"/><use href="#ir" transform="translate(1656,323) scale(.87)"/><use href="#is" transform="translate(1656,358) scale(.87)"/><use href="#im" transform="translate(1656,393) scale(.87)"/>

<g clip-path="url(#cnv)">
<path d="M1245 445h195a13 13 0 0 1 13 13v12a13 13 0 0 1-13 12.700H1245a13 13 0 0 1-13-12.700v-12a13 13 0 0 1 13-13z" fill="#00fff0"/>
<path d="M1245 514h195a13 13 0 0 1 13 13v12a13 13 0 0 1-13 13H1245a13 13 0 0 1-13-13v-12a13 13 0 0 1 13-13z" fill="#00fff0"/>
<g fill="none" stroke="#fffbef" stroke-width="7.500">
<path d="M998 468H1234a30.700 30.700 0 0 1 0 61H998"/>
<path d="M1650 468H1450a30.700 30.700 0 0 0 0 61H1650"/>
<path d="M998 775H1650" stroke-width="7"/>
</g>
<g clip-path="url(#gap)" fill="none" stroke="#f00" stroke-width="7.500">
<path d="M1234 468a30.700 30.700 0 0 1 0 61"/>
<path d="M1450 468a30.700 30.700 0 0 0 0 61"/>
</g>
</g>

<rect x="996" y="825" width="692" height="24" fill="#9cd9d9"/>
<path d="M996 849V825h692" fill="none" stroke="#d6f6f6" stroke-width="1.500"/><path d="M1688 825v24H996" fill="none" stroke="#4a8a80" stroke-width="2"/>
<text x="1342" y="842" text-anchor="middle" font-family="'Liberation Mono',monospace" font-weight="bold" font-size="12.500" fill="#0a2a28">Close</text>
<rect x="987.500" y="152.500" width="709" height="705" rx="6" fill="none" stroke="#8a8a8a"/>
</svg>
</body></html>
